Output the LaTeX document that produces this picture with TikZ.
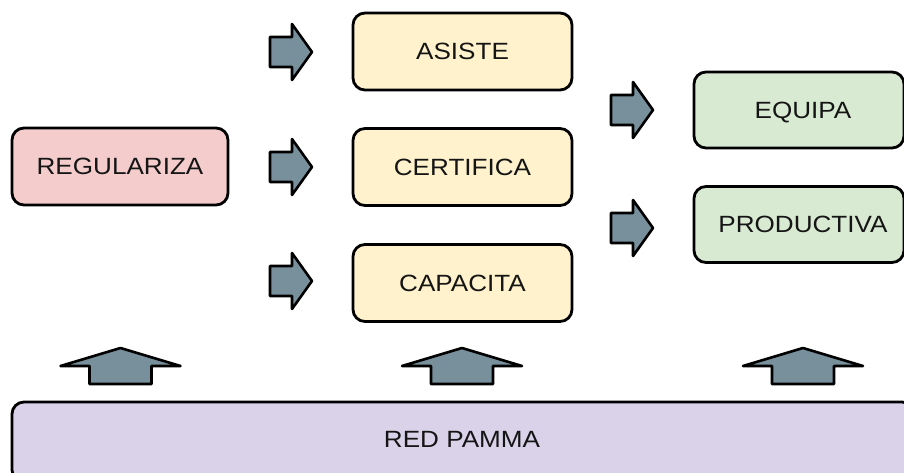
\documentclass[tikz,border=0pt]{standalone}
\usepackage{fontspec}
\setmainfont[FakeStretch=1.11]{Liberation Sans}
\definecolor{pinkfill}{HTML}{F4CCCC}
\definecolor{yellowfill}{HTML}{FFF2CC}
\definecolor{greenfill}{HTML}{D9EAD3}
\definecolor{purplefill}{HTML}{D9D2E9}
\definecolor{arrowfill}{HTML}{78909C}
\definecolor{textcol}{HTML}{151515}
\begin{document}
\begin{tikzpicture}[x=1pt,y=-1pt,
  box/.style={draw=black, line width=2.8pt, rounded corners=12pt, inner sep=0pt,
    text=textcol, font=\fontsize{23.5}{26}\selectfont, anchor=center,
    text height=16.8pt, text depth=0pt},
  arrowshape/.style={draw=black, fill=arrowfill, line width=2.6pt, line join=round},
  rarrow/.pic={\path[arrowshape] (0,0) -- (-20,-28) -- (-20,-15) -- (-42,-15) -- (-42,15) -- (-20,15) -- (-20,28) -- cycle;},
  uarrow/.pic={\path[arrowshape] (0,0) -- (60,18) -- (31,18) -- (31,36) -- (-31,36) -- (-31,18) -- (-60,18) -- cycle;}
]
\clip (0,0) rectangle (904,473);
\fill[white] (0,0) rectangle (904,473);

\node[box, fill=pinkfill, minimum width=216pt, minimum height=77pt] (reg) at (120,166.5) {REGULARIZA};

\node[box, fill=yellowfill, minimum width=219pt, minimum height=77pt] (asi) at (462.5,51.5) {ASISTE};
\node[box, fill=yellowfill, minimum width=219pt, minimum height=77pt] (cer) at (462.5,167) {CERTIFICA};
\node[box, fill=yellowfill, minimum width=219pt, minimum height=77pt] (cap) at (462.5,283) {CAPACITA};

\node[box, fill=greenfill, minimum width=210pt, minimum height=76pt] (equ) at (799,110) {\hspace*{8pt}EQUIPA};
\node[box, fill=greenfill, minimum width=210pt, minimum height=76pt] (pro) at (799,224.5) {\hspace*{8pt}PRODUCTIVA};

\node[box, fill=purplefill, minimum width=902pt, minimum height=80pt] (red) at (463,442) {};
\node[text=textcol, font=\fontsize{23.5}{26}\selectfont, inner sep=0pt, text height=16.8pt, text depth=0pt] (redlabel) at (462,439) {RED PAMMA};

\pic at (312,52) {rarrow};
\pic at (312,167) {rarrow};
\pic at (312,281) {rarrow};
\pic at (653,110) {rarrow};
\pic at (653,228) {rarrow};

\pic at (120.5,348) {uarrow};
\pic at (462,348) {uarrow};
\pic at (803,348) {uarrow};
\end{tikzpicture}
\end{document}
